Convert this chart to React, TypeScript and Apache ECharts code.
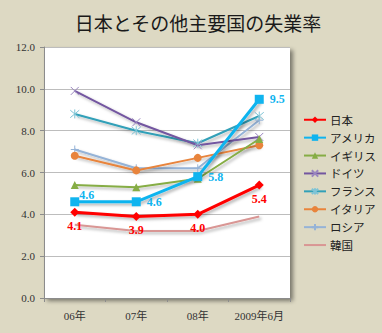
import React, { useEffect, useRef } from "react";
import * as echarts from "echarts";

const categories = ["06年", "07年", "08年", "2009年6月"];
const japan = [4.1, 3.9, 4.0, 5.4];
const usa = [4.6, 4.6, 5.8, 9.5];
const uk = [5.4, 5.3, 5.7, 7.6];
const germany = [9.9, 8.4, 7.3, 7.7];
const france = [8.8, 8.0, 7.4, 8.7];
const italy = [6.8, 6.1, 6.7, 7.3];
const russia = [7.1, 6.2, 6.2, 8.5];
const korea = [3.5, 3.2, 3.2, 3.9];
const yTicks = { min: 0, max: 12, interval: 2 };

const SERIF = "'Liberation Serif', 'DejaVu Serif', 'Noto Sans CJK JP', serif";
const JP = "'Noto Sans CJK JP', sans-serif";

const shadow = {
  shadowColor: "rgba(0,0,0,0.3)",
  shadowBlur: 3,
  shadowOffsetX: 2,
  shadowOffsetY: 2,
};

const X_PATH = "path://M0 0L10 10M10 0L0 10";
const AST_PATH = "path://M0 0L10 10M10 0L0 10M5 -1L5 11";
const PLUS_PATH = "path://M5 0L5 10M0 5L10 5";
const BAR_PATH = "path://M0 0L22 0L22 2L0 2Z";

export default function App() {
  const ref = useRef<HTMLDivElement>(null);
  useEffect(() => {
    if (!ref.current) return;
    const chart = echarts.init(ref.current, undefined, { renderer: "svg" });
    const mk = (
      name: string,
      data: number[],
      color: string,
      width: number,
      symbol: string,
      symbolSize: number,
      extra: any = {}
    ) => ({
      name,
      type: "line",
      data,
      symbol,
      symbolSize,
      showSymbol: symbol !== "none",
      color,
      lineStyle: { color, width, ...shadow },
      itemStyle: { color },
      emphasis: { disabled: true },
      ...extra,
    });
    const strokeSym = (color: string) => ({
      itemStyle: { color: "rgba(0,0,0,0)", borderColor: color, borderWidth: 1 },
    });
    chart.setOption({
      animation: false,
      backgroundColor: "#ddd9c3",
      title: {
        text: "日本とその他主要国の失業率",
        left: 193,
        textAlign: "center",
        top: 10,
        textStyle: { fontFamily: SERIF, fontSize: 19, fontWeight: "normal", color: "#1a1a1a" },
      },
      legend: {
        orient: "vertical",
        left: 303,
        top: 114,
        itemWidth: 22,
        itemHeight: 8,
        itemGap: 6.4,
        padding: 0,
        textStyle: { fontFamily: JP, fontSize: 11.5, color: "#222", padding: [0, 0, 0, -1] },
        data: [
          "日本",
          "アメリカ",
          "イギリス",
          "ドイツ",
          "フランス",
          "イタリア",
          "ロシア",
          { name: "韓国", icon: BAR_PATH },
        ],
      },
      grid: {
        left: 44,
        right: 92,
        top: 47,
        bottom: 35,
        show: true,
        backgroundColor: "#ffffff",
        borderWidth: 0,
        shadowColor: "rgba(0,0,0,0.45)",
        shadowBlur: 4,
        shadowOffsetX: 3,
        shadowOffsetY: 3,
      },
      xAxis: {
        type: "category",
        data: categories,
        boundaryGap: true,
        axisLine: { lineStyle: { color: "#8c8c8c" } },
        axisTick: { show: true, length: 4, lineStyle: { color: "#8c8c8c" } },
        axisLabel: { interval: 0, fontFamily: SERIF, fontSize: 11, color: "#333", margin: 12 },
      },
      yAxis: {
        type: "value",
        min: yTicks.min,
        max: yTicks.max,
        interval: yTicks.interval,
        axisLine: { show: true, lineStyle: { color: "#8c8c8c" } },
        axisTick: { show: true, length: 4, lineStyle: { color: "#8c8c8c" } },
        splitLine: { lineStyle: { color: "#bdbdbd", width: 1 } },
        axisLabel: {
          fontFamily: SERIF,
          fontSize: 11,
          color: "#333",
          margin: 9,
          formatter: (v: number) => v.toFixed(1),
        },
      },
      series: [
        mk("韓国", korea, "#d99694", 2, "none", 0, { z: 2 }),
        mk("ロシア", russia, "#95b3d7", 2, PLUS_PATH, 8, { z: 2, ...strokeSym("#95b3d7") }),
        mk("イタリア", italy, "#e8843c", 2, "circle", 8, { z: 2 }),
        mk("フランス", france, "#31a0b8", 2, AST_PATH, 9, { z: 2, ...strokeSym("#7fc4d6") }),
        mk("ドイツ", germany, "#7356a0", 2, X_PATH, 8, { z: 2, ...strokeSym("#9a86bf") }),
        mk("イギリス", uk, "#86ad45", 2, "triangle", 8, { z: 2 }),
        mk("アメリカ", usa, "#10b4ef", 3, "rect", 9, {
          z: 4,
          label: {
            show: true,
            position: "right",
            distance: 6,
            fontFamily: SERIF,
            fontSize: 12,
            fontWeight: "bold",
            color: "#10b4ef",
            formatter: (p: any) => p.value.toFixed(1),
          },
          data: usa.map((v, i) =>
            i === 0 ? { value: v, label: { offset: [-6, -7] } } : { value: v }
          ),
        }),
        mk("日本", japan, "#ff0000", 3, "diamond", 9, {
          z: 5,
          label: {
            show: true,
            position: "bottom",
            distance: 3,
            fontFamily: SERIF,
            fontSize: 12,
            fontWeight: "bold",
            color: "#ff0000",
            formatter: (p: any) => p.value.toFixed(1),
          },
        }),
      ],
    });
    return () => chart.dispose();
  }, []);
  return (
    <div
      ref={ref}
      style={{ position: "fixed", left: 0, top: 0, width: 382, height: 333 }}
    />
  );
}
